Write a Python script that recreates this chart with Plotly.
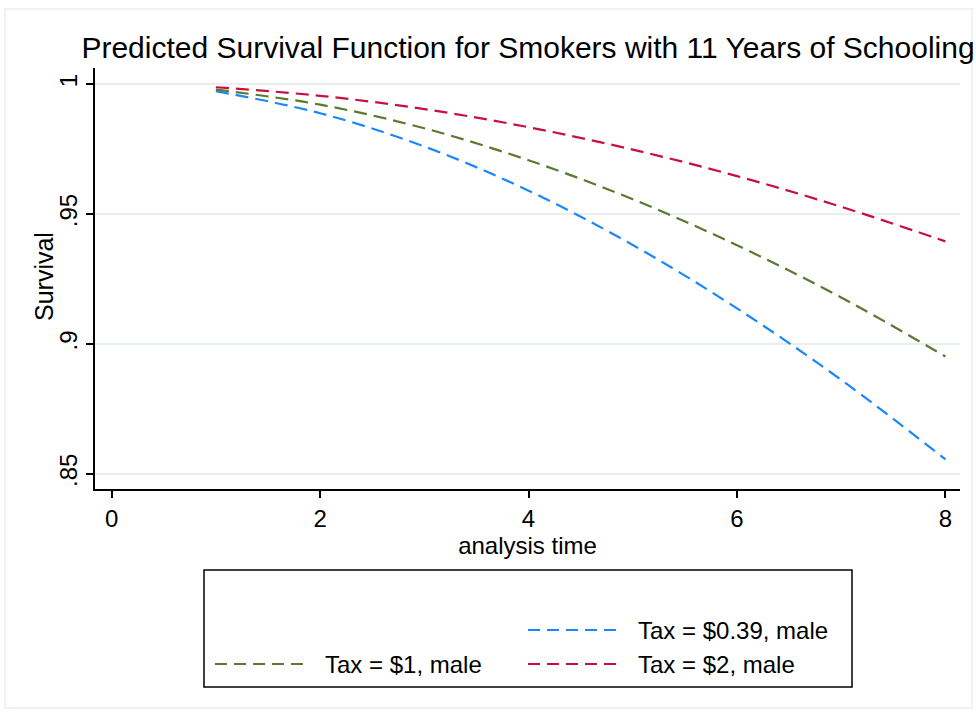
import plotly.graph_objects as go

# ---- data ----
analysis_time = [1, 2, 3, 4, 5, 6, 7, 8]
surv_tax039 = [0.9973, 0.9888, 0.9760, 0.9590, 0.9381, 0.9137, 0.8862, 0.8556]
surv_tax1 = [0.9979, 0.9921, 0.9830, 0.9707, 0.9557, 0.9380, 0.9179, 0.8952]
surv_tax2 = [0.9988, 0.9955, 0.9904, 0.9834, 0.9748, 0.9646, 0.9528, 0.9395]
series_names = ["Tax = $0.39, male", "Tax = $1, male", "Tax = $2, male"]
series_colors = ["#1a87ff", "#5a7a30", "#c8103e"]
x_ticks = [0, 2, 4, 6, 8]
y_ticks = [0.85, 0.9, 0.95, 1.0]
y_ticktext = [".85", ".9", ".95", "1"]

title_text = "Predicted Survival Function for Smokers with 11 Years of Schooling"

W, H = 976, 715
L, R, T, B = 95, 16, 68, 226
FONT = "Liberation Sans, Arial, Helvetica, sans-serif"

def px_x(px):
    return (px - L) / (W - L - R)

def px_y(py):
    return (H - B - py) / (H - T - B)

fig = go.Figure()
series = [surv_tax039, surv_tax1, surv_tax2]
for name, vals, col in zip(series_names, series, series_colors):
    fig.add_trace(go.Scatter(
        x=analysis_time, y=vals, mode="lines", name=name,
        line=dict(color=col, width=2.2, dash="13px,7px", shape="spline"),
        showlegend=False,
    ))

shapes = []
annotations = []
# outer light frame
shapes.append(dict(type="rect", xref="paper", yref="paper",
                   x0=px_x(5), x1=px_x(972), y0=px_y(708), y1=px_y(9),
                   line=dict(color="#e8eff1", width=1.5), layer="below"))
# legend box
shapes.append(dict(type="rect", xref="paper", yref="paper",
                   x0=px_x(204), x1=px_x(852), y0=px_y(687), y1=px_y(570),
                   line=dict(color="black", width=1.5), fillcolor="white"))
# legend entries (blank first cell, then 0.39, then 1, 2)
legend_pos = [(528, 620, 636, 630), (215, 305, 323, 664), (528, 620, 636, 664)]
for (lx0, lx1, tx, ly), name, col in zip(legend_pos, series_names, series_colors):
    shapes.append(dict(type="line", xref="paper", yref="paper",
                       x0=px_x(lx0), x1=px_x(lx1), y0=px_y(ly), y1=px_y(ly),
                       line=dict(color=col, width=2.2, dash="12px,7px")))
    annotations.append(dict(text=name, xref="paper", yref="paper",
                            x=px_x(tx), y=px_y(ly), xanchor="left", yanchor="middle",
                            showarrow=False, font=dict(size=24, color="black", family=FONT)))
# y-axis title
annotations.append(dict(text="Survival", xref="paper", yref="paper",
                        x=px_x(44), y=px_y(277), xanchor="center", yanchor="middle",
                        textangle=-90, showarrow=False,
                        font=dict(size=25, color="black", family=FONT)))

fig.update_layout(
    width=W, height=H,
    margin=dict(l=L, r=R, t=T, b=B, pad=0),
    paper_bgcolor="white", plot_bgcolor="white",
    font=dict(family=FONT, color="black", size=24),
    title=dict(text=title_text, x=528 / W, xanchor="center",
               y=1 - 47 / H, yanchor="middle", font=dict(size=30, color="black", family=FONT)),
    shapes=shapes, annotations=annotations,
    showlegend=False,
)
fig.update_xaxes(
    range=[-0.16, 8.14], tickvals=x_ticks, ticktext=[str(v) for v in x_ticks],
    showline=True, linecolor="black", linewidth=1.5,
    ticks="outside", ticklen=7, tickwidth=1.5, tickcolor="black",
    showgrid=False, zeroline=False,
    tickfont=dict(size=24, color="black"),
    title=dict(text="analysis time", font=dict(size=24, color="black"), standoff=4),
)
fig.update_yaxes(
    range=[0.8442, 1.0062], tickvals=y_ticks, ticktext=y_ticktext,
    showline=True, linecolor="black", linewidth=1.5,
    ticks="outside", ticklen=7, tickwidth=1.5, tickcolor="black",
    showgrid=True, gridcolor="#e8eff1", gridwidth=2, zeroline=False,
    tickangle=-90, tickfont=dict(size=24, color="black"),
)

fig.write_html("out.html")
